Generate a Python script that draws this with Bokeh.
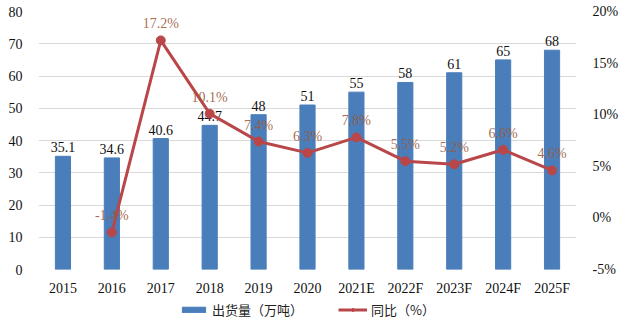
from bokeh.plotting import figure
from bokeh.layouts import column
from bokeh.models import (ColumnDataSource, Range1d, LinearAxis, FactorRange, Legend,
                          LegendItem, FixedTicker, CustomJSTickFormatter)
from bokeh.core.properties import value
from bokeh.embed import file_html
from bokeh.resources import INLINE

years = ["2015", "2016", "2017", "2018", "2019", "2020", "2021E", "2022F", "2023F", "2024F", "2025F"]
shipments = [35.1, 34.6, 40.6, 44.7, 48, 51, 55, 58, 61, 65, 68]
ship_labels = ["35.1", "34.6", "40.6", "44.7", "48", "51", "55", "58", "61", "65", "68"]
yoy_years = ["2016", "2017", "2018", "2019", "2020", "2021E", "2022F", "2023F", "2024F", "2025F"]
yoy = [-1.4, 17.2, 10.1, 7.4, 6.3, 7.8, 5.5, 5.2, 6.6, 4.6]
yoy_labels = ["-1.4%", "17.2%", "10.1%", "7.4%", "6.3%", "7.8%", "5.5%", "5.2%", "6.6%", "4.6%"]
left_ticks = [0, 10, 20, 30, 40, 50, 60, 70, 80]
right_ticks = [-5, 0, 5, 10, 15, 20]
series_names = ["出货量（万吨）", "同比（%）"]

BAR = "#4a7ebb"
LINE = "#b9474a"
PCT = "#9b5a3c"
SERIF = "Liberation Serif"
CJK = "Noto Sans CJK SC"

p = figure(x_range=FactorRange(*years, range_padding=0), y_range=Range1d(0, 80),
           width=622, height=298, output_backend="svg", toolbar_location=None,
           min_border_left=38, min_border_right=46, min_border_top=11, min_border_bottom=0)
p.outline_line_color = None
p.background_fill_color = "white"
p.border_fill_color = "white"
p.extra_y_ranges = {"pct": Range1d(-5, 20)}

bar_src = ColumnDataSource(dict(x=years, y=shipments, lab=ship_labels))
p.vbar(x="x", top="y", width=0.31, source=bar_src, color=BAR)
p.text(x="x", y="y", text="lab", source=bar_src, text_align="center", text_baseline="bottom",
       y_offset=-4, text_font=value(SERIF), text_font_size="14px", text_color="#111111")

line_src = ColumnDataSource(dict(x=yoy_years, y=yoy, lab=yoy_labels))
p.line(x="x", y="y", source=line_src, y_range_name="pct", line_color=LINE, line_width=3)
p.scatter(x="x", y="y", source=line_src, y_range_name="pct", size=9, color=LINE)
p.text(x="x", y="y", text="lab", source=line_src, y_range_name="pct", text_align="center",
       text_baseline="bottom", y_offset=-9, text_font=value(SERIF), text_font_size="14px",
       text_color=PCT, text_alpha=0.9)

# axes
p.yaxis.ticker = FixedTicker(ticks=left_ticks)
for ax in [p.yaxis[0], p.xaxis[0]]:
    ax.axis_line_color = None
    ax.major_tick_line_color = None
    ax.minor_tick_line_color = None
    ax.major_label_text_font = SERIF
    ax.major_label_text_font_size = "14px"
    ax.major_label_text_color = "#111111"
p.yaxis.major_label_standoff = 10
p.xaxis.major_label_standoff = 5

rax = LinearAxis(y_range_name="pct", ticker=FixedTicker(ticks=right_ticks),
                 formatter=CustomJSTickFormatter(code="return tick + '%';"))
rax.axis_line_color = None
rax.major_tick_line_color = None
rax.minor_tick_line_color = None
rax.major_label_text_font = SERIF
rax.major_label_text_font_size = "14px"
rax.major_label_text_color = "#111111"
rax.major_label_standoff = 10
p.add_layout(rax, "right")

p.xgrid.grid_line_color = None
p.ygrid.grid_line_color = "#d9d9d9"
p.ygrid.grid_line_width = 1

# legend strip (hidden stand-in renderers only supply the legend glyph styles)
lg = figure(width=622, height=23, output_backend="svg", toolbar_location=None,
            x_axis_type=None, y_axis_type=None, min_border=0,
            x_range=Range1d(0, 1), y_range=Range1d(0, 1))
lg.outline_line_color = None
lg.xgrid.visible = False
lg.ygrid.visible = False
stub = ColumnDataSource(dict(x=[0.5], y=[0.5]))
r_bar = lg.vbar(x="x", top="y", width=0.3, source=stub, color=BAR, visible=False)
r_line = lg.line(x="x", y="y", source=stub, line_color=LINE, line_width=3, visible=False)
r_mk = lg.scatter(x="x", y="y", source=stub, size=9, color=LINE, visible=False)
legend = Legend(items=[LegendItem(label=series_names[0], renderers=[r_bar]),
                       LegendItem(label=series_names[1], renderers=[r_line, r_mk])],
                orientation="horizontal", location="center",
                label_text_font=CJK, label_text_font_size="13px", label_text_color="#222222",
                glyph_width=29, glyph_height=7, spacing=35, label_standoff=4,
                border_line_color=None, background_fill_alpha=0, padding=0, margin=0,
                label_height=20)
lg.add_layout(legend, "center")

open("out.html", "w").write(file_html(column(p, lg, spacing=0), INLINE))
